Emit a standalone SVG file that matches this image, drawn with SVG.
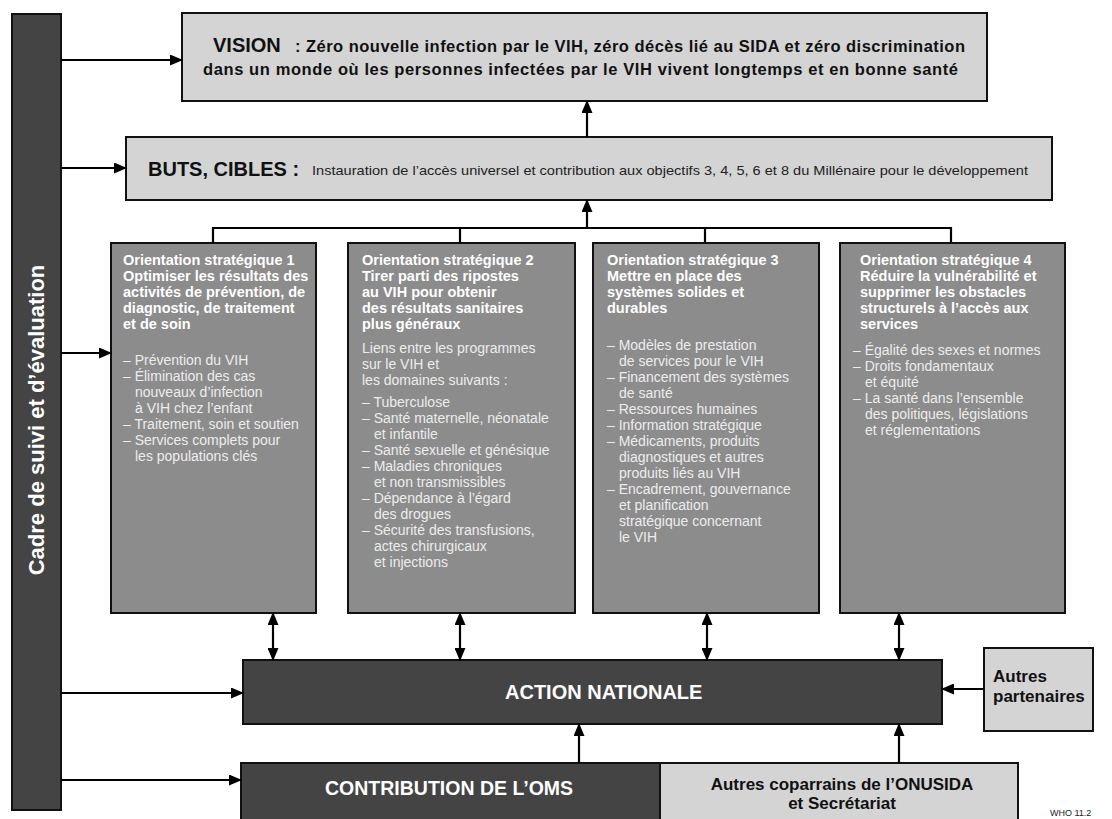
<svg xmlns="http://www.w3.org/2000/svg" width="1112" height="819" viewBox="0 0 1112 819">
<style>
.light{fill:#d4d4d4;stroke:#111;stroke-width:2}
.mid{fill:#8c8c8c;stroke:#111;stroke-width:2}
.dark{fill:#444;stroke:#111;stroke-width:2}
text{font-family:"Liberation Sans",Arial,sans-serif}
.b{font-weight:bold}
.hd{font-weight:bold;font-size:14.5px;fill:#fff}
.bd{font-size:14px;fill:#ececec}
.vt{font-weight:bold;font-size:16.5px;fill:#111}
.cn{stroke:#000;stroke-width:2.2;fill:none}
</style>
<defs>
<marker id="ah" markerUnits="userSpaceOnUse" markerWidth="13" markerHeight="11" refX="12" refY="5.5" orient="auto-start-reverse">
<path d="M0,0 L13,5.5 L0,11 z" fill="#000"/>
</marker>
</defs>

<g id="cadre">
<rect x="12" y="14" width="49" height="796" class="dark"/>
<text transform="translate(44,420) rotate(-90)" text-anchor="middle" class="b" font-size="22" fill="#fff">Cadre de suivi et d’évaluation</text>
</g>

<g id="vision">
<rect x="182" y="13" width="805" height="88" class="light"/>
<text x="213" y="52" class="vt"><tspan font-size="20">VISION</tspan><tspan x="295" textLength="670">: Zéro nouvelle infection par le VIH, zéro décès lié au SIDA et zéro discrimination</tspan></text>
<text x="203" y="75" class="vt" textLength="755">dans un monde où les personnes infectées par le VIH vivent longtemps et en bonne santé</text>
</g>

<g id="buts">
<rect x="126" y="137" width="926" height="63" class="light"/>
<text x="148" y="176" class="b" font-size="20" fill="#111">BUTS, CIBLES :</text>
<text x="312" y="175" font-size="13.5" fill="#222" textLength="716" lengthAdjust="spacingAndGlyphs">Instauration de l’accès universel et contribution aux objectifs 3, 4, 5, 6 et 8 du Millénaire pour le développement</text>
</g>

<g id="os1">
<rect x="111" y="243" width="205" height="370" class="mid"/>
<text class="hd"><tspan x="123" y="265">Orientation stratégique 1</tspan><tspan x="123" y="281">Optimiser les résultats des</tspan><tspan x="123" y="297">activités de prévention, de</tspan><tspan x="123" y="313">diagnostic, de traitement</tspan><tspan x="123" y="329">et de soin</tspan></text>
<text class="bd"><tspan x="123" y="365">– Prévention du VIH</tspan><tspan x="123" y="381">– Élimination des cas</tspan><tspan x="135" y="397">nouveaux d’infection</tspan><tspan x="135" y="413">à VIH chez l’enfant</tspan><tspan x="123" y="429">– Traitement, soin et soutien</tspan><tspan x="123" y="445">– Services complets pour</tspan><tspan x="135" y="461">les populations clés</tspan></text>
</g>

<g id="os2">
<rect x="348" y="243" width="227" height="370" class="mid"/>
<text class="hd"><tspan x="362" y="265">Orientation stratégique 2</tspan><tspan x="362" y="281">Tirer parti des ripostes</tspan><tspan x="362" y="297">au VIH pour obtenir</tspan><tspan x="362" y="313">des résultats sanitaires</tspan><tspan x="362" y="329">plus généraux</tspan></text>
<text class="bd"><tspan x="362" y="353">Liens entre les programmes</tspan><tspan x="362" y="369">sur le VIH et</tspan><tspan x="362" y="385">les domaines suivants :</tspan><tspan x="362" y="407">– Tuberculose</tspan><tspan x="362" y="423">– Santé maternelle, néonatale</tspan><tspan x="374" y="439">et infantile</tspan><tspan x="362" y="455">– Santé sexuelle et génésique</tspan><tspan x="362" y="471">– Maladies chroniques</tspan><tspan x="374" y="487">et non transmissibles</tspan><tspan x="362" y="503">– Dépendance à l’égard</tspan><tspan x="374" y="519">des drogues</tspan><tspan x="362" y="535">– Sécurité des transfusions,</tspan><tspan x="374" y="551">actes chirurgicaux</tspan><tspan x="374" y="567">et injections</tspan></text>
</g>

<g id="os3">
<rect x="593" y="243" width="226" height="370" class="mid"/>
<text class="hd"><tspan x="607" y="265">Orientation stratégique 3</tspan><tspan x="607" y="281">Mettre en place des</tspan><tspan x="607" y="297">systèmes solides et</tspan><tspan x="607" y="313">durables</tspan></text>
<text class="bd"><tspan x="607" y="350">– Modèles de prestation</tspan><tspan x="619" y="366">de services pour le VIH</tspan><tspan x="607" y="382">– Financement des systèmes</tspan><tspan x="619" y="398">de santé</tspan><tspan x="607" y="414">– Ressources humaines</tspan><tspan x="607" y="430">– Information stratégique</tspan><tspan x="607" y="446">– Médicaments, produits</tspan><tspan x="619" y="462">diagnostiques et autres</tspan><tspan x="619" y="478">produits liés au VIH</tspan><tspan x="607" y="494">– Encadrement, gouvernance</tspan><tspan x="619" y="510">et planification</tspan><tspan x="619" y="526">stratégique concernant</tspan><tspan x="619" y="542">le VIH</tspan></text>
</g>

<g id="os4">
<rect x="840" y="243" width="225" height="370" class="mid"/>
<text class="hd"><tspan x="860" y="265">Orientation stratégique 4</tspan><tspan x="860" y="281">Réduire la vulnérabilité et</tspan><tspan x="860" y="297">supprimer les obstacles</tspan><tspan x="860" y="313">structurels à l’accès aux</tspan><tspan x="860" y="329">services</tspan></text>
<text class="bd"><tspan x="853" y="355">– Égalité des sexes et normes</tspan><tspan x="853" y="371">– Droits fondamentaux</tspan><tspan x="865" y="387">et équité</tspan><tspan x="853" y="403">– La santé dans l’ensemble</tspan><tspan x="865" y="419">des politiques, législations</tspan><tspan x="865" y="435">et réglementations</tspan></text>
</g>

<g id="action">
<rect x="243" y="660" width="699" height="64" class="dark"/>
<text x="505" y="699" class="b" font-size="20" fill="#fff">ACTION NATIONALE</text>
</g>

<g id="partenaires">
<rect x="984" y="648" width="109" height="83" class="light"/>
<text class="b" font-size="17" fill="#111"><tspan x="993" y="682">Autres</tspan><tspan x="993" y="702">partenaires</tspan></text>
</g>

<g id="oms">
<rect x="241" y="763" width="419" height="70" class="dark"/>
<text x="325" y="795" class="b" font-size="19.5" fill="#fff">CONTRIBUTION DE L’OMS</text>
</g>

<g id="coparrains">
<rect x="660" y="763" width="358" height="70" class="light"/>
<text text-anchor="middle" class="b" font-size="17" fill="#111"><tspan x="842" y="790">Autres coparrains de l’ONUSIDA</tspan><tspan x="842" y="809">et Secrétariat</tspan></text>
</g>

<text x="1050" y="816" font-size="9" fill="#222">WHO 11.2</text>

<g id="connectors">
<line x1="61" y1="60" x2="182" y2="60" class="cn" marker-end="url(#ah)"/>
<line x1="61" y1="168" x2="126" y2="168" class="cn" marker-end="url(#ah)"/>
<line x1="61" y1="353" x2="111" y2="353" class="cn" marker-end="url(#ah)"/>
<line x1="61" y1="693" x2="243" y2="693" class="cn" marker-end="url(#ah)"/>
<line x1="61" y1="780" x2="241" y2="780" class="cn" marker-end="url(#ah)"/>
<line x1="587" y1="137" x2="587" y2="101" class="cn" marker-end="url(#ah)"/>
<line x1="587" y1="228" x2="587" y2="200" class="cn" marker-end="url(#ah)"/>
<path d="M213,243 V228 H951 V243 M460,228 V243 M705,228 V243" class="cn"/>
<line x1="273" y1="613" x2="273" y2="660" class="cn" marker-start="url(#ah)" marker-end="url(#ah)"/>
<line x1="460" y1="613" x2="460" y2="660" class="cn" marker-start="url(#ah)" marker-end="url(#ah)"/>
<line x1="707" y1="613" x2="707" y2="660" class="cn" marker-start="url(#ah)" marker-end="url(#ah)"/>
<line x1="899" y1="613" x2="899" y2="660" class="cn" marker-start="url(#ah)" marker-end="url(#ah)"/>
<line x1="579" y1="763" x2="579" y2="724" class="cn" marker-end="url(#ah)"/>
<line x1="899" y1="763" x2="899" y2="724" class="cn" marker-end="url(#ah)"/>
<line x1="984" y1="689" x2="942" y2="689" class="cn" marker-end="url(#ah)"/>
</g>
</svg>
